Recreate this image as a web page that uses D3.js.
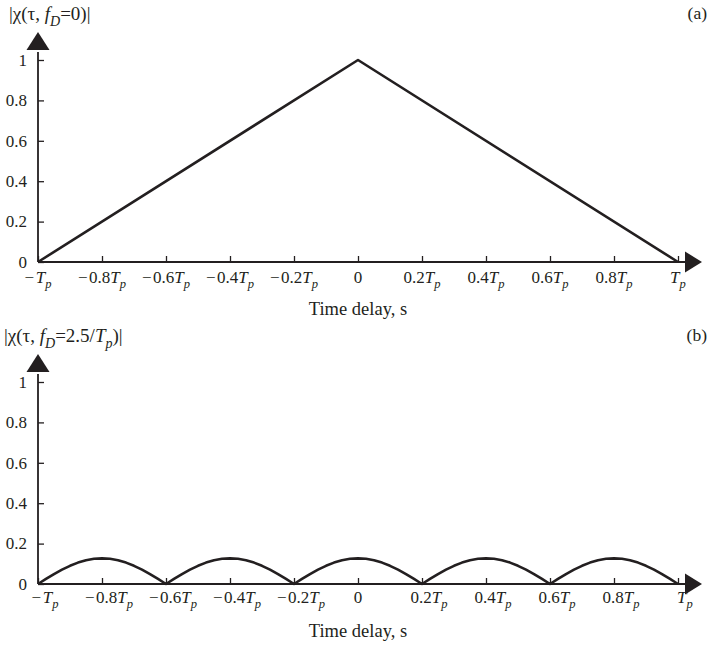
<!DOCTYPE html>
<html>
<head>
<meta charset="utf-8">
<script src="https://cdn.jsdelivr.net/npm/d3@7"></script>
<style>
  html, body { margin: 0; padding: 0; background: #fff; }
  svg { display: block; }
  text { font-family: "Liberation Serif", "Times New Roman", serif; fill: #231f20; }
</style>
</head>
<body>
<svg id="chart" width="709" height="646"></svg>
<script>
// ---------- data ----------
const xTickValues = [-1, -0.8, -0.6, -0.4, -0.2, 0, 0.2, 0.4, 0.6, 0.8, 1];
const xTickLabels = ["−T_p", "−0.8T_p", "−0.6T_p", "−0.4T_p", "−0.2T_p", "0", "0.2T_p", "0.4T_p", "0.6T_p", "0.8T_p", "T_p"];
const yTickValues = [0, 0.2, 0.4, 0.6, 0.8, 1];
const yTickLabels = ["0", "0.2", "0.4", "0.6", "0.8", "1"];

// panel (a): zero-Doppler cut (triangle)
const tauA = [-1, 0, 1];
const chiA = [0, 1, 0];

// panel (b): Doppler cut at fD = 2.5/Tp
const tauB = [-1, -0.975, -0.95, -0.925, -0.9, -0.875, -0.85, -0.825, -0.8, -0.775, -0.75, -0.725, -0.7, -0.675, -0.65, -0.625,
              -0.6, -0.575, -0.55, -0.525, -0.5, -0.475, -0.45, -0.425, -0.4, -0.375, -0.35, -0.325, -0.3, -0.275, -0.25, -0.225,
              -0.2, -0.175, -0.15, -0.125, -0.1, -0.075, -0.05, -0.025, 0, 0.025, 0.05, 0.075, 0.1, 0.125, 0.15, 0.175,
              0.2, 0.225, 0.25, 0.275, 0.3, 0.325, 0.35, 0.375, 0.4, 0.425, 0.45, 0.475, 0.5, 0.525, 0.55, 0.575,
              0.6, 0.625, 0.65, 0.675, 0.7, 0.725, 0.75, 0.775, 0.8, 0.825, 0.85, 0.875, 0.9, 0.925, 0.95, 0.975, 1];
const chiB = [0, 0.025, 0.049, 0.071, 0.090, 0.106, 0.118, 0.125, 0.127, 0.125, 0.118, 0.106, 0.090, 0.071, 0.049, 0.025,
              0, 0.025, 0.049, 0.071, 0.090, 0.106, 0.118, 0.125, 0.127, 0.125, 0.118, 0.106, 0.090, 0.071, 0.049, 0.025,
              0, 0.025, 0.049, 0.071, 0.090, 0.106, 0.118, 0.125, 0.127, 0.125, 0.118, 0.106, 0.090, 0.071, 0.049, 0.025,
              0, 0.025, 0.049, 0.071, 0.090, 0.106, 0.118, 0.125, 0.127, 0.125, 0.118, 0.106, 0.090, 0.071, 0.049, 0.025,
              0, 0.025, 0.049, 0.071, 0.090, 0.106, 0.118, 0.125, 0.127, 0.125, 0.118, 0.106, 0.090, 0.071, 0.049, 0.025, 0];

const panels = [
  { tag: "(a)", title: [["|χ(τ, ", ""], ["f", "i"], ["D", "is"], ["=0)|", ""]],
    tau: tauA, chi: chiA, y0: 262, y1: 60, labelDy: 21, labelShift: 0, titleX: 9 },
  { tag: "(b)", title: [["|χ(τ, ", ""], ["f", "i"], ["D", "is"], ["=2.5/", ""], ["T", "i"], ["p", "is"], [")|", ""]],
    tau: tauB, chi: chiB, y0: 584, y1: 382, labelDy: 19, labelShift: 7, titleX: 4 }
];

// ---------- drawing ----------
const svg = d3.select("#chart");
const ink = "#231f20";
const x = d3.scaleLinear().domain([-1, 1]).range([38, 678]);

function richText(sel, parts, size) {
  // parts: [text, style, dx] ; style "" normal, "i" italic, "is" italic subscript
  let shifted = false;
  parts.forEach(([t, s, dx]) => {
    const ts = sel.append("tspan").text(t);
    if (dx) ts.attr("dx", dx);
    if (s.includes("i")) ts.attr("font-style", "italic");
    if (s.includes("s")) {
      ts.attr("font-size", size * 0.74).attr("dy", size * 0.32);
      shifted = true;
    } else if (shifted) {
      ts.attr("dy", -size * 0.32);
      shifted = false;
    }
  });
}

function parseTick(lbl) {
  const out = [];
  let rest = lbl;
  if (rest.startsWith("−")) { out.push(["−", ""]); rest = rest.slice(1); }
  const num = rest.replace("T_p", "");
  const gap = out.length ? 1.5 : 0;
  if (num) out.push([num, "", gap]);
  if (lbl.includes("T_p")) {
    out.push(["T", "i", num ? 0 : gap]);
    out.push(["p", "is"]);
  }
  return out;
}

panels.forEach(p => {
  const y = d3.scaleLinear().domain([0, 1]).range([p.y0, p.y1]);
  const g = svg.append("g");

  // x axis ticks
  const xa = g.append("g").attr("transform", `translate(0,${p.y0})`)
    .call(d3.axisBottom(x).tickValues(xTickValues).tickSize(-6).tickFormat(""));
  xa.select(".domain").remove();
  xa.selectAll(".tick line").attr("stroke", ink).attr("stroke-width", 1.3);

  // y axis ticks
  const ya = g.append("g").attr("transform", `translate(${x(-1)},0)`)
    .call(d3.axisLeft(y).tickValues(yTickValues).tickSize(-6).tickFormat(""));
  ya.select(".domain").remove();
  ya.selectAll(".tick line").attr("stroke", ink).attr("stroke-width", 1.3);

  // axis lines
  g.append("line").attr("x1", x(-1)).attr("x2", x(1) + 8).attr("y1", p.y0).attr("y2", p.y0)
    .attr("stroke", ink).attr("stroke-width", 1.8);
  g.append("line").attr("x1", x(-1)).attr("x2", x(-1)).attr("y1", p.y0).attr("y2", y(1) - 8)
    .attr("stroke", ink).attr("stroke-width", 1.8);

  // arrowheads
  const xe = x(1) + 7, ye = y(1) - 10;
  g.append("path").attr("d", `M${xe},${p.y0 - 10.5}L${xe + 17},${p.y0}L${xe},${p.y0 + 10.5}Z`).attr("fill", ink);
  g.append("path").attr("d", `M${x(-1) - 11.5},${ye}L${x(-1)},${ye - 18}L${x(-1) + 11.5},${ye}Z`).attr("fill", ink);

  // x tick labels
  xTickValues.forEach((v, i) => {
    const lbl = xTickLabels[i];
    const t = g.append("text")
      .attr("x", x(v) + (lbl.includes("T_p") ? p.labelShift : 0))
      .attr("y", p.y0 + p.labelDy)
      .attr("text-anchor", "middle")
      .attr("font-size", 17);
    richText(t, parseTick(lbl), 17);
  });

  // y tick labels
  yTickValues.forEach((v, i) => {
    g.append("text").attr("x", x(-1) - 11).attr("y", y(v)).attr("dy", "0.34em")
      .attr("text-anchor", "end").attr("font-size", 17).text(yTickLabels[i]);
  });

  // x axis title
  g.append("text").attr("x", x(0)).attr("y", p.y0 + 53).attr("text-anchor", "middle")
    .attr("font-size", 18.5).text("Time delay, s");

  // panel title & tag
  const tt = g.append("text").attr("x", p.titleX).attr("y", p.y1 - 40).attr("font-size", 19);
  richText(tt, p.title, 19);
  g.append("text").attr("x", 707).attr("y", p.y1 - 41).attr("text-anchor", "end")
    .attr("font-size", 17.5).text(p.tag);

  // the curve
  const pts = p.tau.map((t, i) => [t, p.chi[i]]);
  g.append("path").datum(pts)
    .attr("d", d3.line().x(d => x(d[0])).y(d => y(d[1])))
    .attr("fill", "none").attr("stroke", ink).attr("stroke-width", 2.6)
    .attr("stroke-linejoin", "round");
});
</script>
</body>
</html>
